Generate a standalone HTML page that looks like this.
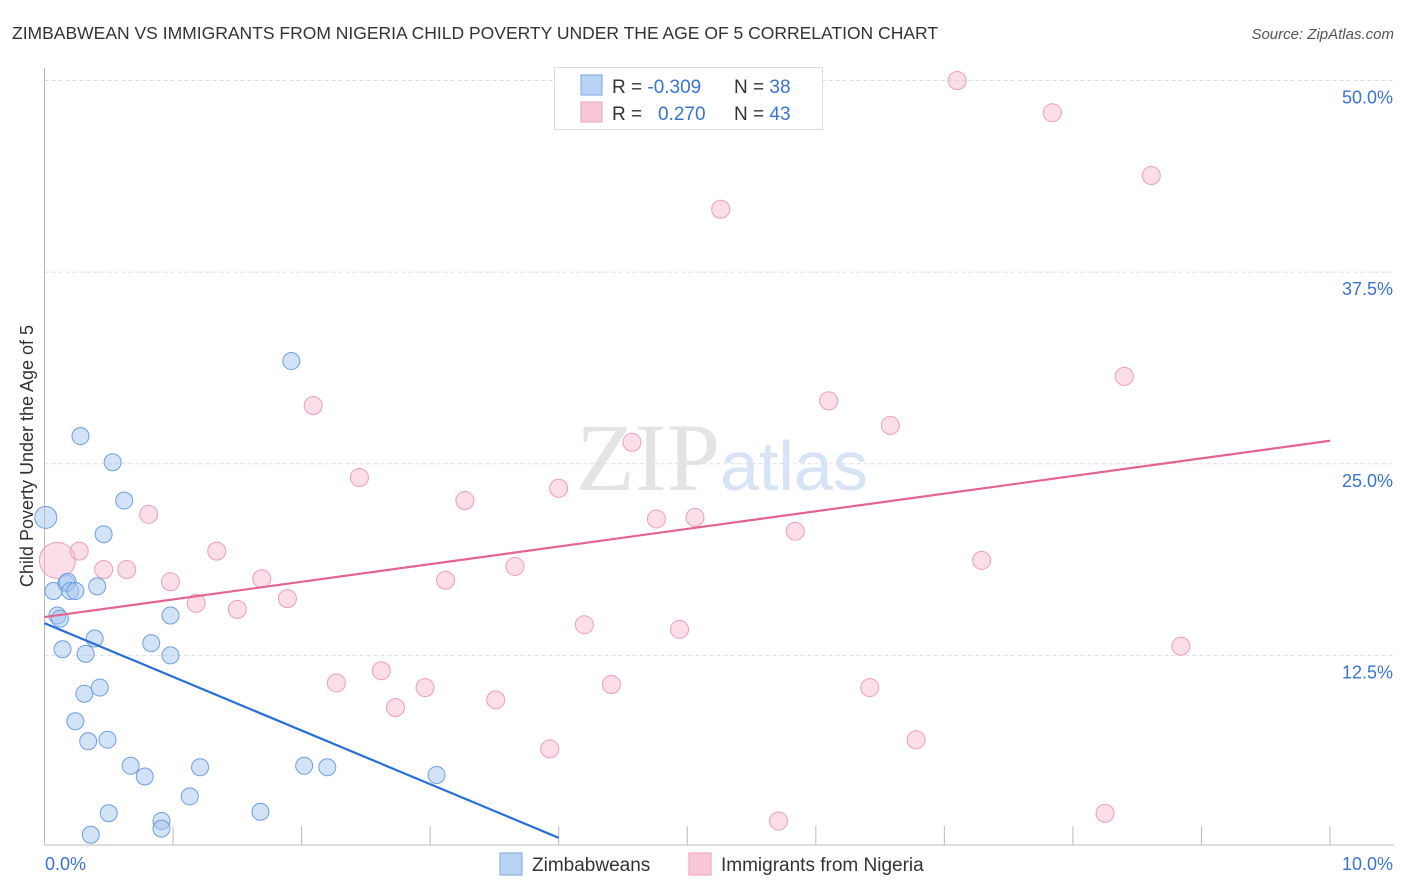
<!DOCTYPE html>
<html><head><meta charset="utf-8"><style>
body{margin:0;background:#fff;font-family:"Liberation Sans",sans-serif;}
svg{display:block}
</style></head><body>
<svg width="1406" height="892" id="chart">
<text x="12" y="39" font-size="17.5" fill="#333">ZIMBABWEAN VS IMMIGRANTS FROM NIGERIA CHILD POVERTY UNDER THE AGE OF 5 CORRELATION CHART</text>
<text x="1394" y="39" font-size="15" fill="#555" font-style="italic" text-anchor="end">Source: ZipAtlas.com</text>
<text x="720" y="490" font-size="96" fill="#e4e4e4" text-anchor="end" font-family="Liberation Serif">ZIP</text>
<text x="720" y="490" font-size="70" fill="#d6e4f5">atlas</text>
<g id="grid"></g>
<line x1="44.5" y1="68" x2="44.5" y2="845" stroke="#bbb"/>
<line x1="44.5" y1="845" x2="1394" y2="845" stroke="#bbb"/>
<g id="xticks"></g>
<text transform="translate(33,456) rotate(-90)" font-size="18" fill="#333" text-anchor="middle">Child Poverty Under the Age of 5</text>
<text x="45" y="870" font-size="18" fill="#3b74d0">0.0%</text>
<text x="1393" y="870" font-size="18" fill="#3b74d0" text-anchor="end">10.0%</text>
<g id="pts"></g>
<g id="lines"></g>
<g>
<rect x="554.5" y="67.5" width="268" height="62" fill="#fff" stroke="#ddd"/>
<rect x="581" y="75" width="21" height="20" fill="#b9d3f5" stroke="#7aa7e2"/>
<rect x="581" y="102" width="21" height="20" fill="#f9c8d6" stroke="#eba0b8"/>
<text x="612" y="93" font-size="19" fill="#333">R = <tspan fill="#3b74d0">-0.309</tspan><tspan x="734">N = </tspan><tspan fill="#3b74d0">38</tspan></text>
<text x="612" y="120" font-size="19" fill="#333">R = <tspan fill="#3b74d0" x="658">0.270</tspan><tspan x="734">N = </tspan><tspan fill="#3b74d0">43</tspan></text>
</g>
<g>
<rect x="500" y="853" width="22" height="22" fill="#b9d3f5" stroke="#7aa7e2"/>
<text x="532" y="871" font-size="19" fill="#333">Zimbabweans</text>
<rect x="689" y="853" width="22" height="22" fill="#f9c8d6" stroke="#eba0b8"/>
<text x="721" y="871" font-size="19" fill="#333">Immigrants from Nigeria</text>
</g>
</svg>
<script>
const yTicks=[12.5,25,37.5,50];
const yTickLabels=["12.5%","25.0%","37.5%","50.0%"];
const xTicks=[1,2,3,4,5,6,7,8,9,10];
const blueX=[0.01,0.07,0.1,0.12,0.17,0.18,0.2,0.24,0.14,0.28,0.53,0.62,0.46,0.41,0.39,0.32,0.31,0.43,0.24,0.34,0.49,0.67,0.78,1.21,1.13,0.5,0.36,0.91,0.91,0.83,0.98,0.98,1.92,1.68,2.02,2.2,3.05];
const blueY=[21.5,16.7,15.1,14.9,17.2,17.3,16.7,16.7,12.9,26.8,25.1,22.6,20.4,17.0,13.6,12.6,10.0,10.4,8.2,6.9,7.0,5.3,4.6,5.2,3.3,2.2,0.8,1.7,1.2,13.3,15.1,12.5,31.7,2.3,5.3,5.2,4.7];
const pinkX=[0.1,0.27,0.46,0.64,0.81,0.98,1.34,1.18,1.69,1.5,1.89,2.27,2.62,2.73,2.09,2.45,2.96,3.12,3.27,3.51,3.66,3.93,4.0,4.2,4.41,4.57,4.76,4.94,5.06,5.26,5.71,5.84,6.1,6.42,6.58,6.78,7.1,7.29,7.84,8.25,8.4,8.61,8.84];
const pinkY=[18.7,19.3,18.1,18.1,21.7,17.3,19.3,15.9,17.5,15.5,16.2,10.7,11.5,9.1,28.8,24.1,10.4,17.4,22.6,9.6,18.3,6.4,23.4,14.5,10.6,26.4,21.4,14.2,21.5,41.6,1.7,20.6,29.1,10.4,27.5,7.0,50.0,18.7,47.9,2.2,30.7,43.8,13.1];
const blueTrendX=[0,4.0];
const blueTrendY=[14.6,0.6];
const pinkTrendX=[0,10];
const pinkTrendY=[15.0,26.5];
const sx=v=>44.5+v*128.55;
const sy=v=>847-v*15.33;
const NS="http://www.w3.org/2000/svg";
function mk(t,a,p){const e=document.createElementNS(NS,t);for(const k in a)e.setAttribute(k,a[k]);p.appendChild(e);return e;}
const grid=document.getElementById('grid');
yTicks.forEach((t,i)=>{
 const l=mk('line',{x1:44.5,x2:1394,y1:sy(t),y2:sy(t),stroke:'#ddd','stroke-dasharray':'4,3'},grid);
 
 
 const tx=mk('text',{x:1393,y:sy(t)+23,'font-size':18,fill:'#3b74d0','text-anchor':'end'},grid);
 tx.textContent=yTickLabels[i];
 
 
});
const xt=document.getElementById('xticks');
xTicks.forEach(t=>{
 const l=mk('line',{x1:sx(t),x2:sx(t),y1:826,y2:845,stroke:'#bbb'},xt);
 
 
});
const pts=document.getElementById('pts');
pinkX.forEach((x,i)=>{
 const c=mk('circle',{cx:sx(x),cy:sy(pinkY[i]),r:i==0?18:9,fill:'rgba(246,182,202,0.45)',stroke:'#eaa0b8','stroke-width':1},pts);
 
 
});
blueX.forEach((x,i)=>{
 const c=mk('circle',{cx:sx(x),cy:sy(blueY[i]),r:i==0?11:8.5,fill:'rgba(165,198,240,0.5)',stroke:'#6f9fe0','stroke-width':1},pts);
 
 
});
const ln=document.getElementById('lines');
const b=mk('line',{x1:sx(blueTrendX[0]),y1:sy(blueTrendY[0]),x2:sx(blueTrendX[1]),y2:sy(blueTrendY[1]),stroke:'#2a6fd6','stroke-width':2.2},ln);


const p=mk('line',{x1:sx(pinkTrendX[0]),y1:sy(pinkTrendY[0]),x2:sx(pinkTrendX[1]),y2:sy(pinkTrendY[1]),stroke:'#e4648f','stroke-width':2.2},ln);


</script>
</body></html>
